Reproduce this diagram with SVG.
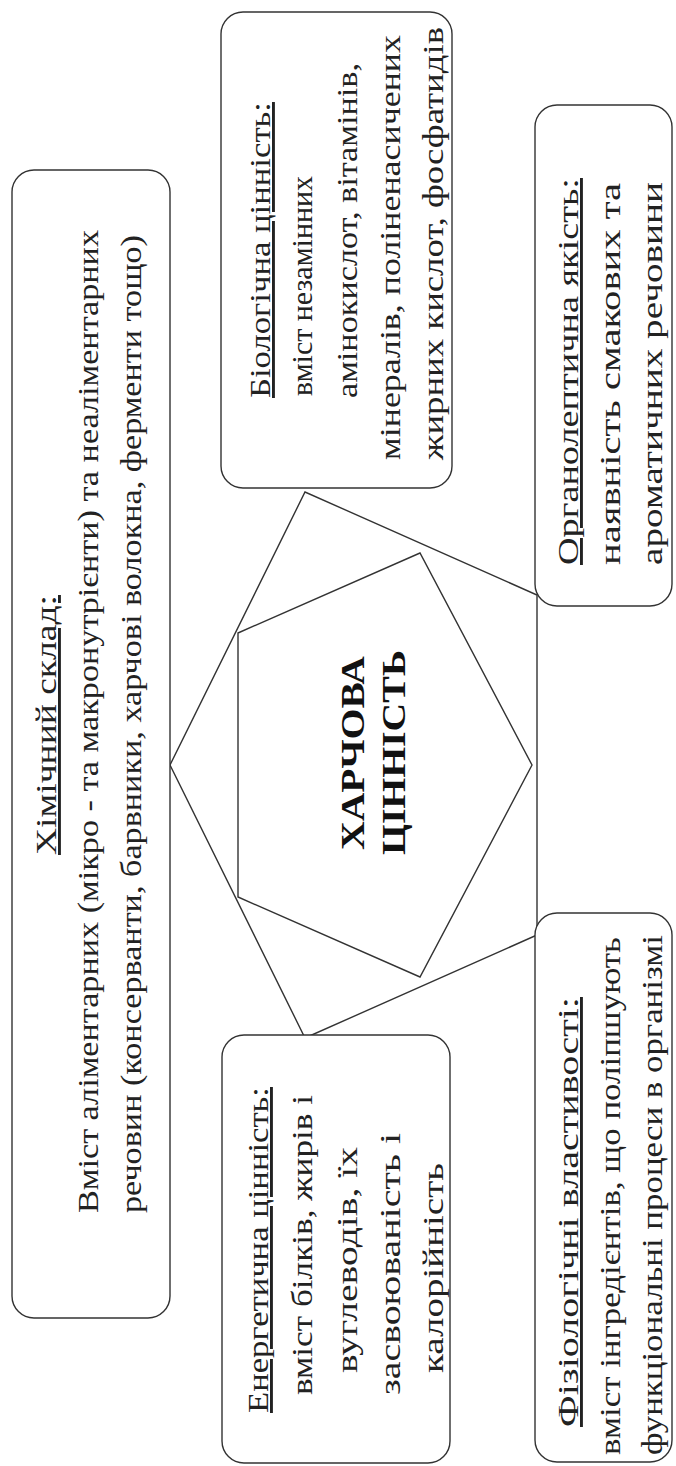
<svg xmlns="http://www.w3.org/2000/svg" width="676" height="1466" viewBox="0 0 676 1466">
<style>
.box{fill:#fff;stroke:#333;stroke-width:1.4}
.ln{fill:none;stroke:#333;stroke-width:1.4;stroke-linejoin:miter}
text{font-family:"Liberation Serif","Times New Roman","DejaVu Serif",serif;font-size:29px;fill:#222}
.u{text-decoration:underline}
.c{font-weight:bold;font-size:34px;fill:#111}
</style>
<rect width="676" height="1466" fill="#fff"/>
<g id="connectors">
<polygon class="ln" points="170,765 305,492 537,595 537,935 305,1038"/>
<polygon class="ln" points="238,633 420,553 532,765 420,977 238,897"/>
</g>
<g id="center">
<g transform="rotate(-90)">
<text class="c" x="-850" y="364" textLength="194" lengthAdjust="spacingAndGlyphs">ХАРЧОВА</text>
<text class="c" x="-855" y="405" textLength="205" lengthAdjust="spacingAndGlyphs">ЦІННІСТЬ</text>
</g>
</g>
<g id="chem">
<rect class="box" x="12" y="170" width="158" height="1148" rx="22"/>
<g transform="rotate(-90)">
<text class="u" x="-855" y="56" textLength="260" lengthAdjust="spacingAndGlyphs">Хімічний склад:</text>
<text x="-1213" y="98" textLength="983" lengthAdjust="spacingAndGlyphs">Вміст аліментарних (мікро - та макронутрієнти) та неаліментарних</text>
<text x="-1213" y="141" textLength="978" lengthAdjust="spacingAndGlyphs">речовин (консерванти, барвники, харчові волокна, ферменти тощо)</text>
</g>
</g>
<g id="bio">
<rect class="box" x="221" y="12" width="231" height="476" rx="22"/>
<g transform="rotate(-90)">
<text class="u" x="-398" y="270" textLength="296" lengthAdjust="spacingAndGlyphs">Біологічна цінність:</text>
<text x="-396" y="312" textLength="220" lengthAdjust="spacingAndGlyphs">вміст незамінних</text>
<text x="-398" y="357" textLength="335" lengthAdjust="spacingAndGlyphs">амінокислот, вітамінів,</text>
<text x="-460" y="400" textLength="425" lengthAdjust="spacingAndGlyphs">мінералів, поліненасичених</text>
<text x="-460" y="443" textLength="433" lengthAdjust="spacingAndGlyphs">жирних кислот, фосфатидів</text>
</g>
</g>
<g id="energy">
<rect class="box" x="222" y="1035" width="228" height="428" rx="22"/>
<g transform="rotate(-90)">
<text class="u" x="-1413" y="268" textLength="326" lengthAdjust="spacingAndGlyphs">Енергетична цінність:</text>
<text x="-1395" y="312" textLength="300" lengthAdjust="spacingAndGlyphs">вміст білків,  жирів і</text>
<text x="-1373" y="357" textLength="226" lengthAdjust="spacingAndGlyphs">вуглеводів, їх</text>
<text x="-1395" y="400" textLength="262" lengthAdjust="spacingAndGlyphs">засвоюваність і</text>
<text x="-1373" y="443" textLength="210" lengthAdjust="spacingAndGlyphs">калорійність</text>
</g>
</g>
<g id="organo">
<rect class="box" x="535" y="105" width="137" height="501" rx="22"/>
<g transform="rotate(-90)">
<text class="u" x="-565" y="578" textLength="387" lengthAdjust="spacingAndGlyphs">Органолептична якість:</text>
<text x="-565" y="620" textLength="382" lengthAdjust="spacingAndGlyphs">наявність смакових та</text>
<text x="-565" y="662" textLength="383" lengthAdjust="spacingAndGlyphs">ароматичних речовини</text>
</g>
</g>
<g id="physio">
<rect class="box" x="535" y="913" width="137" height="549" rx="22"/>
<g transform="rotate(-90)">
<text class="u" x="-1427" y="578" textLength="430" lengthAdjust="spacingAndGlyphs">Фізіологічні  властивості:</text>
<text x="-1455" y="620" textLength="518" lengthAdjust="spacingAndGlyphs">вміст інгредієнтів,  що поліпшують</text>
<text x="-1455" y="662" textLength="520" lengthAdjust="spacingAndGlyphs">функціональні процеси в організмі</text>
</g>
</g>
</svg>
